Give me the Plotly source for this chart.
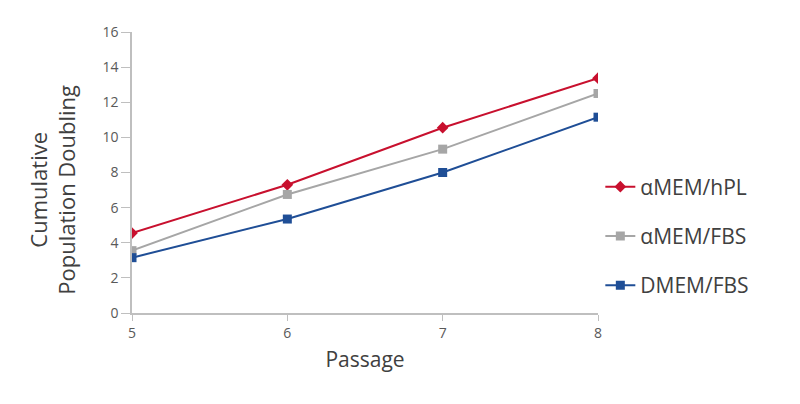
import plotly.graph_objects as go

passage = [5, 6, 7, 8]
hpl = [4.55, 7.3, 10.55, 13.37]
amem_fbs = [3.55, 6.75, 9.33, 12.5]
dmem_fbs = [3.15, 5.35, 8.0, 11.15]

series = [
    ("αMEM/hPL", hpl, "#C8102E", "diamond"),
    ("αMEM/FBS", amem_fbs, "#A6A6A6", "square"),
    ("DMEM/FBS", dmem_fbs, "#1F4E96", "square"),
]

fig = go.Figure()
for i, (name, vals, color, sym) in enumerate(series):
    fig.add_trace(go.Scatter(
        x=passage, y=vals, name=name, mode="lines+markers",
        line=dict(color=color, width=2),
        marker=dict(symbol=sym, size=9, color=color),
        legendgroup=str(i),
    ))

fig.add_annotation(
    text="Cumulative<br>Population Doubling", xref="paper", yref="paper",
    x=-0.17, y=0.438, xanchor="center", yanchor="middle", textangle=-90,
    showarrow=False, font=dict(size=22, color="#404040"),
)

fig.update_layout(
    width=800, height=404,
    margin=dict(l=124, r=210, t=24, b=99),
    paper_bgcolor="white", plot_bgcolor="white",
    font=dict(family="Open Sans", color="#404040"),
    showlegend=True,
    legend=dict(x=1.005, y=0.274, xanchor="left", yanchor="middle",
                font=dict(size=21, color="#404040"),
                tracegroupgap=19, itemwidth=30),
    xaxis=dict(
        range=[5, 8], tickvals=passage, showgrid=False, zeroline=False,
        showline=True, linecolor="#BFBFBF", linewidth=1.5,
        ticks="outside", ticklen=6, tickcolor="#BFBFBF",
        tickfont=dict(size=14, color="#595959"),
        title=dict(text="Passage", font=dict(size=21, color="#404040"), standoff=12),
    ),
    yaxis=dict(
        range=[0, 16], dtick=2, showgrid=False, zeroline=False,
        showline=True, linecolor="#BFBFBF", linewidth=1.5,
        ticks="outside", ticklen=9, tickcolor="#BFBFBF",
        tickfont=dict(size=14, color="#595959"),
    ),
)

fig.write_html("out.html")
